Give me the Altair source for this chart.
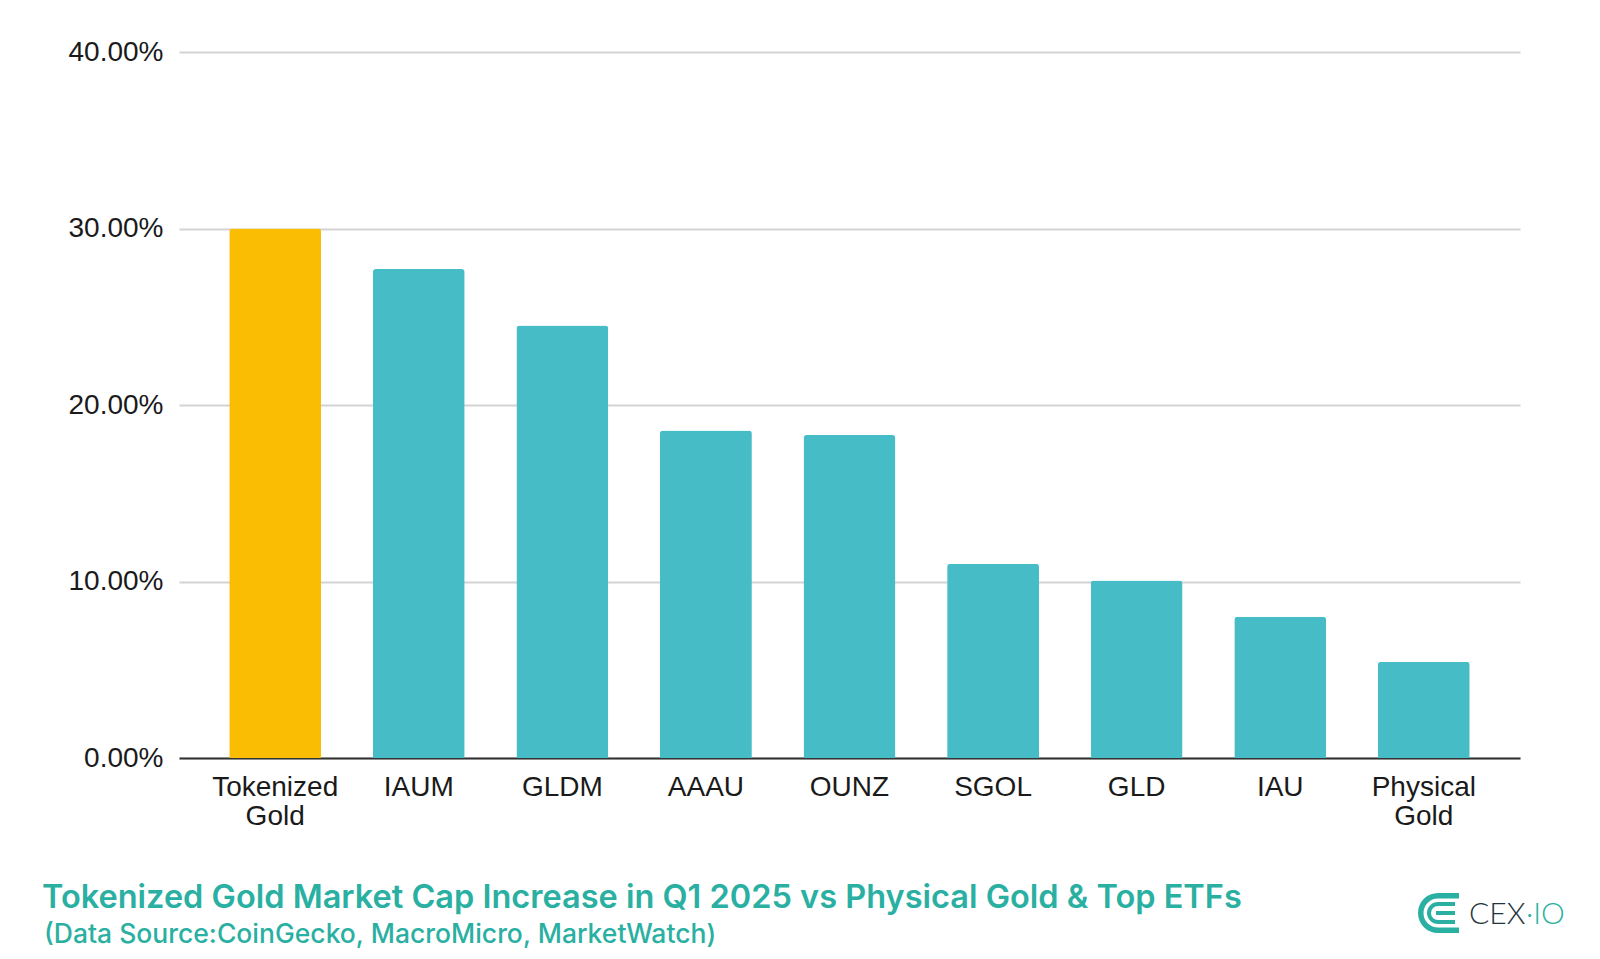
import math
import altair as alt
import pandas as pd

categories = ["Tokenized Gold", "IAUM", "GLDM", "AAAU", "OUNZ", "SGOL", "GLD", "IAU", "Physical Gold"]
increase = [0.300, 0.277, 0.245, 0.1855, 0.183, 0.110, 0.1005, 0.080, 0.0545]
kinds = ["Tokenized", "Other", "Other", "Other", "Other", "Other", "Other", "Other", "Other"]
y_ticks = [0.0, 0.1, 0.2, 0.3, 0.4]

title_text = "Tokenized Gold Market Cap Increase in Q1 2025 vs Physical Gold & Top ETFs"
subtitle_text = "(Data Source:CoinGecko, MacroMicro, MarketWatch)"
logo_dark = "CEX"
logo_teal = "·IO"

GOLD = "#FBBC04"
TEAL = "#46BDC6"
BRAND = "#2AB0A2"
W, H = 1341, 706

df = pd.DataFrame({"category": categories, "increase": increase, "kind": kinds})
decor = pd.DataFrame({"k": [0]})

axis_font = "Liberation Sans, Arial, Helvetica, sans-serif"

bars = alt.Chart(df).mark_bar(cornerRadiusTopLeft=3, cornerRadiusTopRight=3).encode(
    x=alt.X(
        "category:N", sort=categories, title=None,
        scale=alt.Scale(paddingInner=0.36, paddingOuter=0.35),
        axis=alt.Axis(labelAngle=0, labelExpr="split(datum.label, ' ')", ticks=False,
                      domainColor="#333333", domainWidth=2, labelFont=axis_font,
                      labelFontSize=28, labelColor="#1a1a1a", labelPadding=15,
                      labelLineHeight=29.5, grid=False, labelBaseline="top"),
    ),
    y=alt.Y(
        "increase:Q", title=None, scale=alt.Scale(domain=[0, 0.4]),
        axis=alt.Axis(values=y_ticks, format=".2%", ticks=False, domain=False,
                      gridColor="#d3d3d3", gridWidth=2, labelFont=axis_font,
                      labelFontSize=28, labelColor="#1a1a1a", labelPadding=16),
    ),
    color=alt.Color("kind:N", scale=alt.Scale(domain=["Tokenized", "Other"], range=[GOLD, TEAL]), legend=None),
)

title = alt.Chart(decor).mark_text(
    text=title_text, align="left", baseline="alphabetic", font="Inter",
    fontWeight=600, fontSize=32.5, color=BRAND,
).encode(x=alt.value(-137), y=alt.value(856))

subtitle = alt.Chart(decor).mark_text(
    text=subtitle_text, align="left", baseline="alphabetic", font="Inter",
    fontWeight=500, fontSize=26.5, color=BRAND,
).encode(x=alt.value(-135), y=alt.value(891))

cx, cy = 1259, 861
logo1 = alt.Chart(decor).mark_text(
    text=logo_dark, align="left", baseline="alphabetic", font="Lato",
    fontWeight=300, fontSize=30, color="#1f3640",
).encode(x=alt.value(1290), y=alt.value(872))
logo2 = alt.Chart(decor).mark_text(
    text=logo_teal, align="left", baseline="alphabetic", font="Lato",
    fontWeight=300, fontSize=30, color=BRAND,
).encode(x=alt.value(1347), y=alt.value(872))

arc_outer = alt.Chart(decor).mark_arc(
    theta=math.pi, theta2=2 * math.pi, radius=20, radius2=14.5, color=BRAND
).encode(x=alt.value(cx), y=alt.value(cy))
arc_inner = alt.Chart(decor).mark_arc(
    theta=math.pi, theta2=2 * math.pi, radius=11, radius2=7, color=BRAND
).encode(x=alt.value(cx), y=alt.value(cy))

def bar(x1, x2, y1, y2):
    return alt.Chart(decor).mark_rect(color=BRAND).encode(
        x=alt.value(x1), x2=alt.value(x2), y=alt.value(y1), y2=alt.value(y2))

icon_bars = [
    bar(cx, cx + 21, cy - 20, cy - 14.5),
    bar(cx, cx + 21, cy + 14.5, cy + 20),
    bar(cx, cx + 17, cy - 11, cy - 7),
    bar(cx, cx + 17, cy + 7, cy + 11),
    bar(cx - 2, cx + 17, cy - 2, cy + 2),
]

chart = alt.layer(bars, title, subtitle, logo1, logo2, arc_outer, arc_inner, *icon_bars).properties(
    width=W, height=H,
    autosize=alt.AutoSizeParams(type="none"),
    padding={"left": 171, "top": 44, "right": 72, "bottom": 193},
    background="white",
).configure_view(stroke=None)

chart.save("out.html", embed_options={"renderer": "svg", "actions": False})
